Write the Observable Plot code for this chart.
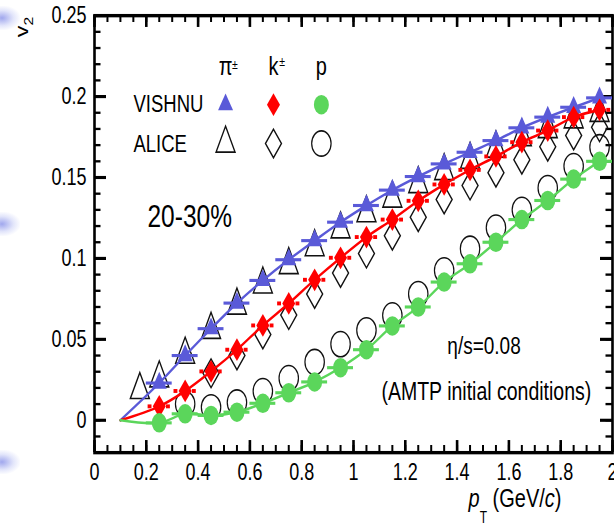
<!DOCTYPE html>
<html><head><meta charset="utf-8">
<script src="https://cdn.jsdelivr.net/npm/d3@7"></script>
<script src="https://cdn.jsdelivr.net/npm/@observablehq/plot@0.6"></script>
<style>
html,body{margin:0;padding:0;background:#fff;overflow:hidden;width:614px;height:525px}
#chart{position:relative;width:614px;height:525px;overflow:hidden}
#chart svg{transform:scaleY(1.3);transform-origin:0 0;display:block}
.smudge{position:absolute;left:0;width:20px;height:24px;pointer-events:none;
background:radial-gradient(ellipse at 10% 50%, rgba(120,130,230,0.7), rgba(160,170,240,0.3) 45%, rgba(255,255,255,0) 75%);}
</style></head><body><div id="chart"></div>
<script>
// ---------- data ----------
const pT = [0.25,0.35,0.45,0.55,0.65,0.75,0.85,0.95,1.05,1.15,1.25,1.35,1.45,1.55,1.65,1.75,1.85,1.95];
const pionVISHNU   = [0.023,0.040,0.0566,0.0724,0.0864,0.0992,0.111,0.1224,0.1327,0.1422,0.1506,0.1584,0.1656,0.1728,0.1807,0.1873,0.1934,0.1992];
const kaonVISHNU   = [0.0086,0.0181,0.0302,0.0436,0.0586,0.0722,0.0868,0.1004,0.1132,0.124,0.1356,0.1457,0.1547,0.163,0.1718,0.179,0.1873,0.1918];
const protonVISHNU = [-0.0016,0.004,0.003,0.005,0.0105,0.017,0.0237,0.0325,0.0436,0.0583,0.070,0.0854,0.0967,0.110,0.124,0.1358,0.149,0.160];
const lineStartPT = 0.1, lineStartV2 = 0;

const pionALICE_pT = [0.175,0.25,0.35,0.45,0.55,0.65,0.75,0.85,0.95,1.05,1.15,1.25,1.35,1.45,1.55,1.65,1.75,1.85,1.95];
const pionALICE    = [0.0188,0.026,0.0406,0.056,0.071,0.084,0.096,0.107,0.118,0.128,0.137,0.146,0.154,0.161,0.168,0.175,0.180,0.186,0.190];
const kaonALICE_pT = [0.45,0.55,0.65,0.75,0.85,0.95,1.05,1.15,1.25,1.35,1.45,1.55,1.65,1.75,1.85,1.95];
const kaonALICE    = [0.029,0.040,0.053,0.065,0.078,0.091,0.103,0.114,0.1255,0.1364,0.145,0.153,0.161,0.169,0.176,0.181];
const protonALICE_pT = [0.35,0.45,0.55,0.65,0.75,0.85,0.95,1.05,1.15,1.25,1.35,1.45,1.55,1.65,1.75,1.85,1.95];
const protonALICE    = [0.010,0.008,0.011,0.018,0.026,0.036,0.047,0.0556,0.0648,0.078,0.0926,0.106,0.119,0.130,0.1435,0.157,0.1687];

const xTickValues = [0,0.2,0.4,0.6,0.8,1,1.2,1.4,1.6,1.8,2];
const xTickLabels = ["0","0.2","0.4","0.6","0.8","1","1.2","1.4","1.6","1.8","2"];
const yTickValues = [0,0.05,0.1,0.15,0.2,0.25];
const yTickLabels = ["0","0.05","0.1","0.15","0.2","0.25"];

const legendHeaders = ["π","k","p"];
const legendSup = ["±","±"];
const legendRows = ["VISHNU","ALICE"];

// ---------- layout ----------
const STRETCH = 1.3;
const W = 614, H = 404;
const mL = 94, mR = 2, mT = 15/STRETCH, mB = H - 452/STRETCH;
const plotW = W - mL - mR, plotH = H - mT - mB;
const FONT = "'Liberation Sans', Arial, Helvetica, sans-serif";
const BLUE = "#5a5ad8", RED = "#ff0000", GREEN = "#5bd65b";

const tri = (w,h) => ({draw(c){c.moveTo(0,-2*h/3);c.lineTo(w/2,h/3);c.lineTo(-w/2,h/3);c.closePath();}});
const dia = (w,h) => ({draw(c){c.moveTo(0,-h/2);c.lineTo(w/2,0);c.lineTo(0,h/2);c.lineTo(-w/2,0);c.closePath();}});
const circ = (r) => ({draw(c){c.moveTo(r,0);c.arc(0,0,r,0,2*Math.PI);c.closePath();}});
const symTriF = tri(15,13), symTriO = tri(19,20);
const symDiaF = dia(13,17.5), symDiaO = dia(16,22);
const symCirF = circ(7.5), symCirO = circ(9.7);

const zipXY = (xs, ys) => xs.map((x,i)=>({x, y: ys[i]}));
const pionV = zipXY(pT, pionVISHNU), kaonV = zipXY(pT, kaonVISHNU), protonV = zipXY(pT, protonVISHNU);
const withStart = d => [{x: lineStartPT, y: lineStartV2}, ...d];
const pionA = zipXY(pionALICE_pT, pionALICE), kaonA = zipXY(kaonALICE_pT, kaonALICE), protonA = zipXY(protonALICE_pT, protonALICE);

const yMinor = d3.range(-0.02, 0.2501, 0.01);
const xMinor = d3.range(0, 2.001, 0.05);

const legendCols = [0.506, 0.691, 0.876];
const legendRowV = [0.195, 0.171];

const chart = Plot.plot({
  width: W, height: H, marginLeft: mL, marginRight: mR, marginTop: mT, marginBottom: mB,
  x: {domain: [0, 2]},
  y: {domain: [-0.02, 0.25]},
  style: {fontFamily: FONT, fontSize: "18px", color: "black", background: "white"},
  marks: [
    // inward ticks
    Plot.tickY(yMinor, {y: d=>d, insetRight: plotW-6.5, stroke: "black", strokeWidth: 1.8}),
    Plot.tickY(yMinor, {y: d=>d, insetLeft: plotW-6.5, stroke: "black", strokeWidth: 1.8}),
    Plot.tickY(yTickValues, {y: d=>d, insetRight: plotW-12, stroke: "black", strokeWidth: 2.4}),
    Plot.tickY(yTickValues, {y: d=>d, insetLeft: plotW-12, stroke: "black", strokeWidth: 2.4}),
    Plot.tickX(xMinor, {x: d=>d, insetTop: plotH-5.4, stroke: "black", strokeWidth: 2}),
    Plot.tickX(xMinor, {x: d=>d, insetBottom: plotH-5.4, stroke: "black", strokeWidth: 2}),
    Plot.tickX(xTickValues, {x: d=>d, insetTop: plotH-9.2, stroke: "black", strokeWidth: 2.6}),
    Plot.tickX(xTickValues, {x: d=>d, insetBottom: plotH-9.2, stroke: "black", strokeWidth: 2.6}),
    Plot.frame({stroke: "black", strokeWidth: 2.6}),
    Plot.axisY({ticks: yTickValues, tickFormat: d => yTickLabels[yTickValues.indexOf(d)], tickSize: 0, tickPadding: 8, fontSize: 18, label: null}),
    Plot.axisX({ticks: xTickValues, tickFormat: d => xTickLabels[xTickValues.indexOf(d)], tickSize: 0, tickPadding: 8.5, fontSize: 18, label: null}),

    // ALICE open markers
    Plot.dot(pionA, {x: "x", y: "y", symbol: symTriO, fill: "none", stroke: "#111", strokeWidth: 1.3}),
    Plot.dot(kaonA, {x: "x", y: "y", symbol: symDiaO, fill: "none", stroke: "#111", strokeWidth: 1.3}),
    Plot.dot(protonA, {x: "x", y: "y", symbol: symCirO, fill: "none", stroke: "#111", strokeWidth: 1.2}),

    // VISHNU curves
    Plot.line(withStart(pionV), {x: "x", y: "y", stroke: BLUE, strokeWidth: 2, curve: "catmull-rom"}),
    Plot.line(withStart(kaonV), {x: "x", y: "y", stroke: RED, strokeWidth: 2, curve: "catmull-rom"}),
    Plot.line(withStart(protonV), {x: "x", y: "y", stroke: GREEN, strokeWidth: 2, curve: "catmull-rom"}),

    // VISHNU horizontal bars
    Plot.ruleY(pionV, {y: "y", x1: d=>d.x-0.05, x2: d=>d.x+0.05, stroke: BLUE, strokeWidth: 2.4}),
    Plot.ruleY(kaonV, {y: "y", x1: d=>d.x-0.043, x2: d=>d.x-0.028, stroke: RED, strokeWidth: 3}),
    Plot.ruleY(kaonV, {y: "y", x1: d=>d.x+0.028, x2: d=>d.x+0.043, stroke: RED, strokeWidth: 3}),
    Plot.ruleY(protonV, {y: "y", x1: d=>d.x-0.05, x2: d=>d.x+0.05, stroke: GREEN, strokeWidth: 2.4}),

    // VISHNU filled markers
    Plot.dot(pionV, {x: "x", y: "y", symbol: symTriF, fill: BLUE, stroke: "none"}),
    Plot.dot(kaonV, {x: "x", y: "y", symbol: symDiaF, fill: RED, stroke: "none"}),
    Plot.dot(protonV, {x: "x", y: "y", symbol: symCirF, fill: GREEN, stroke: "none"}),

    // legend
    Plot.text(legendHeaders, {x: (d,i)=>legendCols[i], y: 0.2136, text: d=>d, textAnchor: "middle", lineAnchor: "bottom", fontSize: 20}),
    Plot.text(legendSup, {x: (d,i)=>[0.531, 0.713][i], y: (d,i)=>[0.2171, 0.2191][i], text: d=>d, textAnchor: "start", lineAnchor: "bottom", fontSize: 10.5}),
    Plot.text(legendRows, {x: 0.1506, y: (d,i)=>[0.1903, 0.1656][i], text: d=>d, textAnchor: "start", lineAnchor: "bottom", fontSize: 18.5}),
    Plot.dot([0], {x: legendCols[0], y: legendRowV[0], symbol: symTriF, fill: BLUE, stroke: "none"}),
    Plot.dot([0], {x: legendCols[1], y: legendRowV[0], symbol: symDiaF, fill: RED, stroke: "none"}),
    Plot.dot([0], {x: legendCols[2], y: legendRowV[0], symbol: symCirF, fill: GREEN, stroke: "none"}),
    Plot.dot([0], {x: legendCols[0], y: legendRowV[1], symbol: symTriO, fill: "none", stroke: "#111", strokeWidth: 1.3}),
    Plot.dot([0], {x: legendCols[1], y: legendRowV[1], symbol: symDiaO, fill: "none", stroke: "#111", strokeWidth: 1.3}),
    Plot.dot([0], {x: legendCols[2], y: legendRowV[1], symbol: symCirO, fill: "none", stroke: "#111", strokeWidth: 1.2}),

    // annotations
    Plot.text(["20-30%"], {x: 0.2046, y: 0.1193, text: d=>d, textAnchor: "start", lineAnchor: "bottom", fontSize: 24.5}),
    Plot.text(["η/s=0.08"], {x: 1.504, y: 0.0407, text: d=>d, textAnchor: "middle", lineAnchor: "bottom", fontSize: 19}),
    Plot.text(["(AMTP initial conditions)"], {x: 1.513, y: 0.0123, text: d=>d, textAnchor: "middle", lineAnchor: "bottom", fontSize: 19.5})
  ]
});

const svg = d3.select(chart);
// y-axis title v_2
const yl = svg.append("text").attr("transform", "translate(28,13) rotate(-90)")
  .attr("text-anchor", "end").attr("font-family", FONT).attr("fill", "black");
yl.append("tspan").attr("font-size", 18).text("v");
yl.append("tspan").attr("font-size", 12).attr("dy", 5).text("2");
// x-axis title p_T (GeV/c)
const xl = svg.append("text").attr("x", 515).attr("y", 390).attr("font-family", FONT).attr("font-size", 20).attr("fill", "black");
xl.append("tspan").attr("font-style", "italic").text("p");
xl.append("tspan").attr("font-size", 12).attr("dy", 12).text("T");
xl.append("tspan").attr("dy", -12).text(" (GeV/");
xl.append("tspan").attr("font-style", "italic").text("c");
xl.append("tspan").text(")");

const root = document.getElementById("chart");
root.appendChild(chart);
[6, 212, 450].forEach(t => {
  const s = document.createElement("div"); s.className = "smudge"; s.style.top = t + "px"; root.appendChild(s);
});
</script></body></html>
